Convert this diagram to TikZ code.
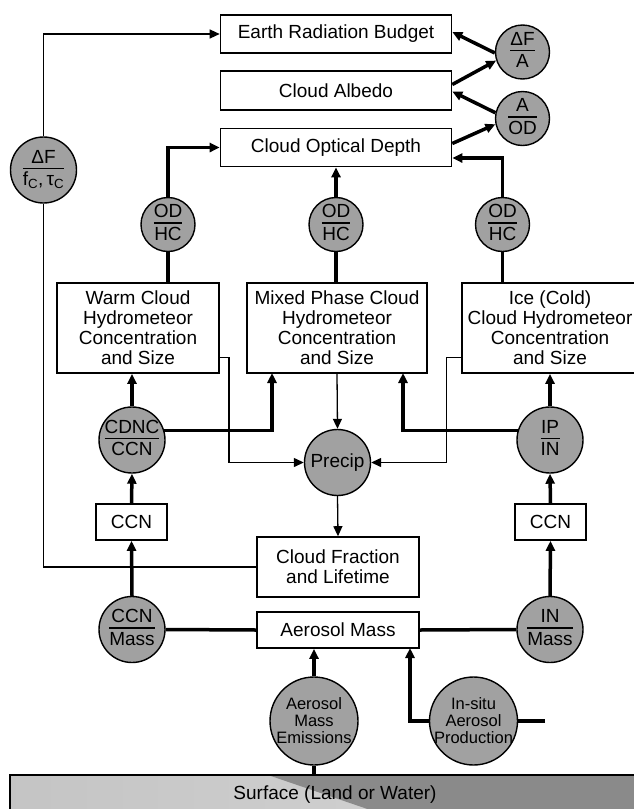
\documentclass[tikz,border=0pt]{standalone}
\usepackage{fontspec}
\setmainfont{Liberation Sans}
\usetikzlibrary{arrows.meta}
\setlength\arrayrulewidth{1.5pt}
\newcommand\frc[2]{{\renewcommand\arraystretch{0.7}\begin{tabular}{@{}c@{}}#1\\\hline\rule{0pt}{16.5pt}#2\end{tabular}}}
\begin{document}
\begin{tikzpicture}[x=1pt,y=-1pt,
  box/.style={draw,line width=1.6pt,fill=white,inner sep=0pt,align=center,font=\fontsize{19}{20}\selectfont},
  circ/.style={circle,draw,line width=1.4pt,fill=black!37,inner sep=0pt},
  lab/.style={font=\fontsize{19}{20}\selectfont,inner sep=0pt,align=center},
  slab/.style={font=\fontsize{16.5}{17}\selectfont,inner sep=0pt,align=center},
  thinln/.style={line width=1.3pt},
  thickln/.style={line width=3.5pt},
  tip/.style={-{Triangle[length=10pt,width=9pt]}}]
\useasboundingbox (0,0) rectangle (633,809);
% surface
\fill[left color=black!23,right color=black!16] (10,775) rectangle (645,815);
\fill[black!46] (268,775) -- (645,775) -- (645,815) -- (385,815) -- cycle;
\draw[line width=1.5pt] (10,815) -- (10,775) -- (645,775);
\node[font=\fontsize{19}{20}\selectfont,minimum height=40pt,inner sep=0pt] (surf) at (335,795) {Surface (Land or Water)};
% boxes
\node[box,minimum width=231pt,minimum height=38pt] (erb) at (336,34) {Earth Radiation Budget};
\node[box,minimum width=231pt,minimum height=39pt] (alb) at (336,90.5) {Cloud Albedo};
\node[box,minimum width=231pt,minimum height=38pt] (cod) at (336,147.5) {Cloud Optical Depth};
\node[box,minimum width=162pt,minimum height=90pt] (warm) at (138,328) {Warm Cloud\\Hydrometeor\\Concentration\\and Size};
\node[box,minimum width=180pt,minimum height=90pt] (mixed) at (337,328) {Mixed Phase Cloud\\Hydrometeor\\Concentration\\and Size};
\node[box,minimum width=176pt,minimum height=90pt] (ice) at (550,328) {Ice (Cold)\\Cloud Hydrometeor\\Concentration\\and Size};
\node[box,minimum width=71pt,minimum height=36pt] (ccn1) at (131.5,522) {CCN};
\node[box,minimum width=71pt,minimum height=36pt] (ccn2) at (550.5,522) {CCN};
\node[box,minimum width=162pt,minimum height=60pt] (cfl) at (338,567) {Cloud Fraction\\and Lifetime};
\node[box,minimum width=162pt,minimum height=36pt] (am) at (338,630) {Aerosol Mass};
% circles
\node[circ,minimum size=54pt,label={[lab]center:\frc{ΔF}{A}}] (dfa) at (522.5,52) {};
\node[circ,minimum size=54pt,label={[lab]center:\frc{A}{OD}}] (aod) at (522.5,118.5) {};
\node[circ,minimum size=66pt,label={[lab]center:\frc{ΔF}{f\textsubscript{C},\,τ\textsubscript{C}}}] (dffc) at (43.5,170) {};
\node[circ,minimum size=54pt,label={[lab]center:\frc{OD}{HC}}] (odh1) at (168,224.5) {};
\node[circ,minimum size=54pt,label={[lab]center:\frc{OD}{HC}}] (odh2) at (336,224.5) {};
\node[circ,minimum size=54pt,label={[lab]center:\frc{OD}{HC}}] (odh3) at (502.5,224.5) {};
\node[circ,minimum size=66pt,label={[lab]center:\frc{CDNC}{CCN}}] (cdnc) at (132,440) {};
\node[circ,minimum size=66pt,label={[lab]center:Precip}] (precip) at (337.5,462.5) {};
\node[circ,minimum size=66pt,label={[lab]center:\frc{IP}{IN}}] (ipin) at (550,440) {};
\node[circ,minimum size=66pt,label={[lab]center:\frc{CCN}{Mass}}] (ccnm) at (132,629.5) {};
\node[circ,minimum size=66pt,label={[lab]center:\frc{IN}{Mass}}] (inm) at (550,629.5) {};
\node[circ,minimum size=88pt,label={[slab]center:Aerosol\\Mass\\Emissions}] (ame) at (314,721) {};
\node[circ,minimum size=88pt,label={[slab]center:In-situ\\Aerosol\\Production}] (isap) at (473.5,721) {};
% coordinates
\coordinate (wr) at (229,357.7);
\coordinate (ir) at (446.7,357.7);
\coordinate (c3) at (452,158);
\coordinate (m1) at (272,373);
\coordinate (m2) at (403,373);
\coordinate (isr) at (545,721);
\coordinate (isl) at (410,648);
% thin connectors
\draw[thinln,tip] (dffc.north) |- (erb.west);
\draw[thinln] (dffc.south) |- (cfl.west);
\draw[thinln,tip] (warm.east |- wr) -- (wr) |- (precip.west);
\draw[thinln,tip] (ice.west |- ir) -- (ir) |- (precip.east);
\draw[thinln,tip] (mixed.south) -- (precip.north);
\draw[thinln,tip] (precip.south) -- (cfl.north);
% thick connectors
\draw[thickln,tip] (odh1.north) |- (cod.west);
\draw[thickln] (odh1.south) -- (odh1.south |- warm.north);
\draw[thickln,tip] (odh2.north) -- (odh2.north |- cod.south);
\draw[thickln] (odh2.south) -- (odh2.south |- mixed.north);
\draw[thickln,tip] (odh3.north) |- (cod.east |- c3);
\draw[thickln] (odh3.south) -- (odh3.south |- ice.north);
\draw[thickln,tip] (cdnc.north) -- (cdnc.north |- warm.south);
\draw[thickln,tip] (cdnc.16) -| (m1);
\draw[thickln,tip] (ipin.164) -| (m2);
\draw[thickln,tip] (ipin.north) -- (ipin.north |- ice.south);
\draw[thickln,tip] (ccn1.north) -- (cdnc.south);
\draw[thickln,tip] (ccnm.north) -- (ccn1.south);
\draw[thickln,tip] (ccn2.north) -- (ipin.south);
\draw[thickln,tip] (inm.north) -- (ccn2.south);
\draw[thickln] (ccnm.east) -- (am.west);
\draw[thickln] (am.east) -- (inm.west);
\draw[thickln,tip] (ame.north) -- (ame.north |- am.south);
\draw[thickln] (ame.south) -- (ame.south |- surf.north);
\draw[thickln] (isr) -- (isap.east);
\draw[thickln,tip] (isap.west) -| (isl);
% top-right arrows
\draw[thickln,tip] (dfa.182) -- ([yshift=2pt]erb.east);
\draw[thickln,tip] ([yshift=6pt]alb.east) -- (dfa.198);
\draw[thickln,tip] (aod.168) -- ([yshift=-1pt]alb.east);
\draw[thickln,tip] ([yshift=4pt]cod.east) -- (aod.192);
\end{tikzpicture}
\end{document}
